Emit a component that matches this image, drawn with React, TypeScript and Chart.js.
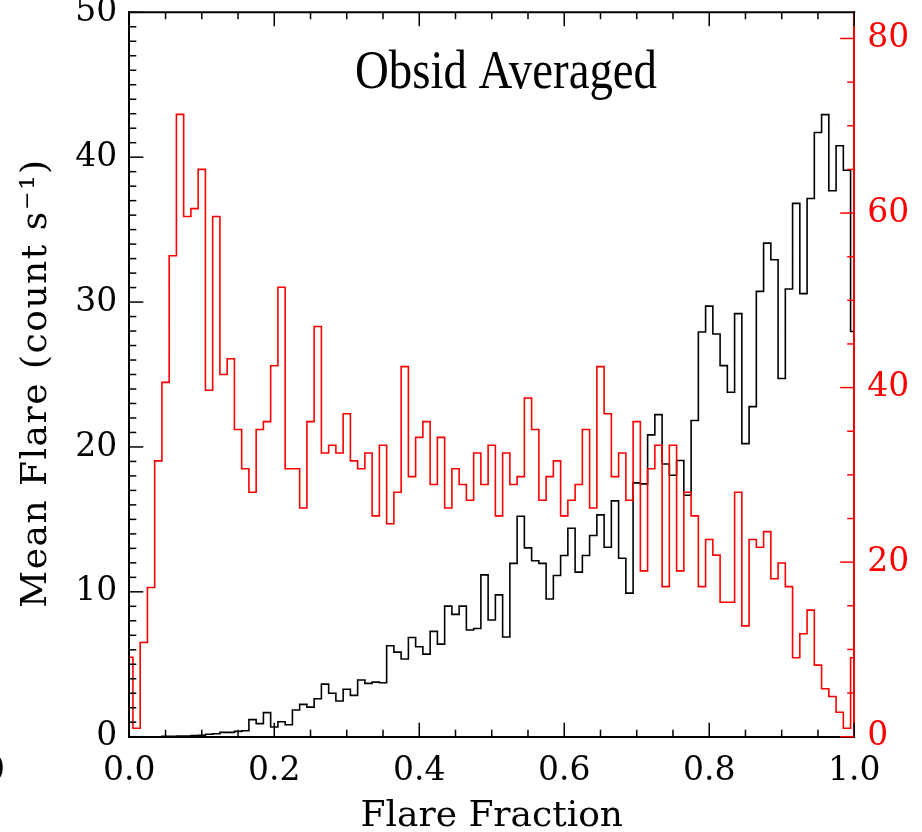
import React, { useEffect, useRef } from "react";
import { Chart, registerables } from "chart.js";

Chart.register(...registerables);

// Flare fraction (bin centres)
const fractions = [
  0.0, 0.01, 0.02, 0.03, 0.04, 0.05, 0.06, 0.07, 0.08, 0.09,
  0.1, 0.11, 0.12, 0.13, 0.14, 0.15, 0.16, 0.17, 0.18, 0.19,
  0.2, 0.21, 0.22, 0.23, 0.24, 0.25, 0.26, 0.27, 0.28, 0.29,
  0.3, 0.31, 0.32, 0.33, 0.34, 0.35, 0.36, 0.37, 0.38, 0.39,
  0.4, 0.41, 0.42, 0.43, 0.44, 0.45, 0.46, 0.47, 0.48, 0.49,
  0.5, 0.51, 0.52, 0.53, 0.54, 0.55, 0.56, 0.57, 0.58, 0.59,
  0.6, 0.61, 0.62, 0.63, 0.64, 0.65, 0.66, 0.67, 0.68, 0.69,
  0.7, 0.71, 0.72, 0.73, 0.74, 0.75, 0.76, 0.77, 0.78, 0.79,
  0.8, 0.81, 0.82, 0.83, 0.84, 0.85, 0.86, 0.87, 0.88, 0.89,
  0.9, 0.91, 0.92, 0.93, 0.94, 0.95, 0.96, 0.97, 0.98, 0.99,
  1.0,
];

// Black histogram: mean flare rate (left axis)
const meanFlare = [
  0, 0, 0, 0, 0, 0.02, 0.03, 0.05, 0.05, 0.08,
  0.1, 0.17, 0.2, 0.3, 0.3, 0.37, 0.41, 1.18, 0.9, 1.66,
  0.67, 1.03, 0.82, 1.84, 2.23, 2.04, 2.62, 3.63, 3.0, 2.46,
  3.27, 2.85, 3.91, 3.68, 3.77, 3.72, 6.28, 5.84, 5.36, 6.85,
  6.21, 5.7, 7.27, 6.39, 9.01, 8.44, 9.01, 7.36, 7.47, 11.17,
  8.05, 9.79, 6.88, 11.96, 15.22, 13.03, 12.14, 11.96, 9.5, 11.13,
  12.51, 14.39, 11.36, 12.51, 13.89, 15.31, 13.08, 16.28, 12.32, 9.91,
  17.52, 17.45, 20.83, 22.23, 18.82, 18.05, 19.06, 16.67, 21.83, 27.93,
  29.72, 27.8, 25.61, 23.78, 29.2, 20.23, 22.78, 30.74, 34.07, 32.92,
  24.72, 30.9, 36.81, 30.58, 37.15, 41.7, 42.94, 37.68, 40.79, 39.1,
  27.97,
];

// Red histogram (right axis)
const redCounts = [
  9.1, 0.96, 10.8, 17.1, 31.6, 40.6, 55.1, 71.3, 59.6, 60.5,
  65.0, 39.7, 59.6, 41.5, 43.3, 35.2, 30.7, 28.0, 35.2, 36.1,
  42.5, 51.5, 30.7, 30.7, 26.2, 36.1, 47.0, 32.5, 33.4, 32.5,
  37.0, 31.6, 30.7, 32.5, 25.3, 33.4, 24.4, 28.0, 42.4, 29.8,
  34.3, 36.1, 28.9, 34.3, 26.2, 30.7, 28.9, 27.1, 32.5, 28.9,
  33.4, 25.3, 32.5, 28.9, 29.8, 38.8, 35.2, 27.1, 29.8, 31.6,
  25.3, 27.1, 28.9, 35.2, 26.2, 42.4, 37.0, 29.8, 32.5, 27.1,
  36.1, 19.0, 30.7, 33.4, 17.2, 33.4, 19.0, 28.0, 25.3, 17.2,
  22.6, 20.8, 15.4, 15.4, 28.0, 12.7, 22.6, 21.7, 23.5, 18.1,
  19.9, 17.2, 9.05, 11.8, 14.5, 8.2, 5.5, 4.6, 2.8, 0.96,
  9.05,
];

const xTickValues = [0, 0.2, 0.4, 0.6, 0.8, 1.0];
const xTickLabels = ["0.0", "0.2", "0.4", "0.6", "0.8", "1.0"];
const leftTickValues = [0, 10, 20, 30, 40, 50];
const rightTickValues = [0, 20, 40, 60, 80];

const titleText = "Obsid Averaged";
const xTitle = "Flare Fraction";
const yTitle = "Mean Flare (count s\u207B\u00B9)";

const TICK_FONT = { family: "'DejaVu Serif'", size: 33 };

const decorPlugin = {
  id: "decor",
  afterDraw(chart: any) {
    const { ctx, chartArea: a, scales } = chart;
    const sx = scales.x;
    const sl = scales.y;
    const sr = scales.y1;
    ctx.save();
    // top frame line
    ctx.strokeStyle = "#000";
    ctx.lineWidth = 2;
    ctx.beginPath();
    ctx.moveTo(a.left, a.top);
    ctx.lineTo(a.right + 1, a.top);
    ctx.stroke();

    ctx.lineWidth = 1.5;
    // x ticks bottom & top (minor 0.05, major 0.2)
    for (let i = 0; i <= 20; i++) {
      const px = sx.getPixelForValue(i * 0.05);
      const len = i % 4 === 0 ? 14 : 7;
      ctx.beginPath();
      ctx.moveTo(px, a.bottom);
      ctx.lineTo(px, a.bottom - len);
      ctx.moveTo(px, a.top);
      ctx.lineTo(px, a.top + len);
      ctx.stroke();
    }
    // left ticks (minor 1, major 10)
    for (let v = 0; v <= 50; v++) {
      const py = sl.getPixelForValue(v);
      const len = v % 10 === 0 ? 14 : 7;
      ctx.beginPath();
      ctx.moveTo(a.left, py);
      ctx.lineTo(a.left + len, py);
      ctx.stroke();
    }
    // right ticks (minor 5, major 20)
    ctx.strokeStyle = "#ff0000";
    for (let v = 0; v <= 80; v += 5) {
      const py = sr.getPixelForValue(v);
      const len = v % 20 === 0 ? 14 : 7;
      ctx.beginPath();
      ctx.moveTo(a.right, py);
      ctx.lineTo(a.right - len, py);
      ctx.stroke();
    }

    // main title
    ctx.fillStyle = "#000";
    ctx.font = "54px 'Liberation Serif'";
    ctx.textAlign = "center";
    ctx.textBaseline = "alphabetic";
    ctx.fillText(titleText, 506, 88, 302);

    // x title
    ctx.font = "36px 'DejaVu Serif'";
    ctx.fillText(xTitle, (a.left + a.right) / 2, 826);

    // y title
    ctx.save();
    ctx.translate(46, 383);
    ctx.rotate(-Math.PI / 2);
    ctx.font = "36px 'DejaVu Serif'";
    try {
      (ctx as any).letterSpacing = "1.5px";
    } catch (e) {}
    ctx.fillText(yTitle, 0, 0);
    ctx.restore();

    // clipped neighbouring label at the far left edge
    ctx.font = "33px 'DejaVu Serif'";
    ctx.textAlign = "right";
    ctx.textBaseline = "middle";
    ctx.fillText("0", 5, 771);
    ctx.restore();
  },
};

export default function App() {
  const canvasRef = useRef<HTMLCanvasElement | null>(null);

  useEffect(() => {
    if (!canvasRef.current) return;
    const chart = new Chart(canvasRef.current, {
      type: "line",
      data: {
        datasets: [
          {
            label: "red",
            data: fractions.map((f, i) => ({ x: f, y: redCounts[i] })),
            yAxisID: "y1",
            borderColor: "#ff0000",
            borderWidth: 1.6,
            pointRadius: 0,
            stepped: "middle",
            fill: false,
            order: 0,
          },
          {
            label: "black",
            data: fractions.map((f, i) => ({ x: f, y: meanFlare[i] })),
            yAxisID: "y",
            borderColor: "#000000",
            borderWidth: 1.6,
            pointRadius: 0,
            stepped: "middle",
            fill: false,
            order: 1,
          },
        ],
      },
      options: {
        animation: false,
        responsive: true,
        maintainAspectRatio: false,
        devicePixelRatio: 1,
        layout: { padding: { top: 12.3, left: 0, right: 0, bottom: 0 } },
        plugins: {
          legend: { display: false },
          tooltip: { enabled: false },
          title: { display: false },
        },
        scales: {
          x: {
            type: "linear",
            position: "bottom",
            min: 0,
            max: 1,
            grid: { display: false, drawTicks: false },
            border: { display: true, color: "#000", width: 2 },
            afterBuildTicks: (s: any) => {
              s.ticks = xTickValues.map((v) => ({ value: v }));
            },
            ticks: {
              font: TICK_FONT,
              color: "#000",
              padding: 15,
              maxRotation: 0,
              minRotation: 0,
              autoSkip: false,
              callback: (v: any) => {
                const i = xTickValues.findIndex((t) => Math.abs(t - Number(v)) < 1e-6);
                return i >= 0 ? xTickLabels[i] : "";
              },
            },
            afterFit: (s: any) => {
              s.height = 832 - 736.7;
              s.paddingLeft = 0;
              s.paddingRight = 0;
            },
          },
          y: {
            type: "linear",
            position: "left",
            min: 0,
            max: 50,
            grid: { display: false, drawTicks: false },
            border: { display: true, color: "#000", width: 2 },
            afterBuildTicks: (s: any) => {
              s.ticks = leftTickValues.map((v) => ({ value: v }));
            },
            ticks: {
              font: TICK_FONT,
              color: "#000",
              padding: 12,
              callback: (v: any) => String(v),
            },
            afterFit: (s: any) => {
              s.width = 129.3;
              s.paddingTop = 0;
              s.paddingBottom = 0;
            },
          },
          y1: {
            type: "linear",
            position: "right",
            min: 0,
            max: 83,
            grid: { display: false, drawTicks: false },
            border: { display: true, color: "#ff0000", width: 2 },
            afterBuildTicks: (s: any) => {
              s.ticks = rightTickValues.map((v) => ({ value: v }));
            },
            ticks: {
              font: TICK_FONT,
              color: "#ff0000",
              padding: 13,
              callback: (v: any) => String(v),
            },
            afterFit: (s: any) => {
              s.width = 922 - 854.2;
              s.paddingTop = 0;
              s.paddingBottom = 0;
            },
          },
        },
      },
      plugins: [decorPlugin],
    } as any);
    return () => chart.destroy();
  }, []);

  return (
    <div
      style={{
        position: "fixed",
        left: 0,
        top: 0,
        width: 922,
        height: 832,
        background: "#fff",
      }}
    >
      <canvas ref={canvasRef} style={{ display: "block" }} />
    </div>
  );
}
